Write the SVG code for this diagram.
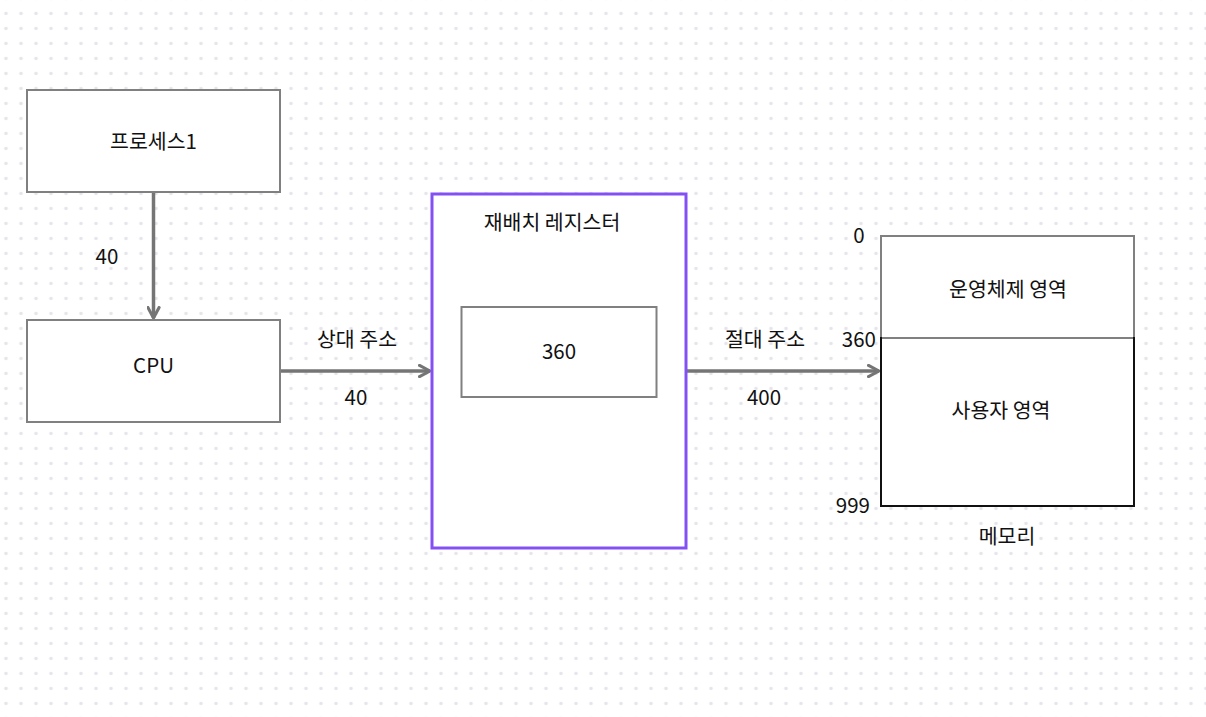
<svg xmlns="http://www.w3.org/2000/svg" width="1206" height="717" viewBox="0 0 1206 717">
<defs>
<pattern id="dots" x="0" y="0" width="15" height="15" patternUnits="userSpaceOnUse" patternTransform="translate(-1.5,-2)">
<circle cx="7.5" cy="15.5" r="1.7" fill="#e4e4ea"/>
<circle cx="7.5" cy="0.5" r="1.7" fill="#e4e4ea"/>
</pattern>
<marker id="arr" viewBox="0 0 10 10" refX="8.5" refY="5" markerWidth="4" markerHeight="4" orient="auto" markerUnits="strokeWidth">
<path d="M1,1 L8.5,5 L1,9" fill="none" stroke="#757575" stroke-width="2.2" stroke-linecap="round" stroke-linejoin="round"/>
</marker>
<style>
text{font-family:"Noto Sans CJK KR","Liberation Sans",sans-serif;font-size:20.5px;fill:#111;text-anchor:middle;dominant-baseline:central}
.box{fill:#fff;stroke:#808080;stroke-width:2}
.conn{stroke:#757575;stroke-width:3.5;fill:none}
</style>
</defs>
<rect width="1206" height="717" fill="#fff"/>
<rect width="1206" height="717" fill="url(#dots)"/>
<g id="connectors">
<line class="conn" x1="153.5" y1="192" x2="153.5" y2="318" marker-end="url(#arr)"/>
<line class="conn" x1="281" y1="371" x2="430" y2="371" marker-end="url(#arr)"/>
<line class="conn" x1="687" y1="371" x2="879" y2="371" marker-end="url(#arr)"/>
<text x="107" y="255">40</text>
<text x="357" y="338">상대 주소</text>
<text x="356" y="396">40</text>
<text x="765" y="338">절대 주소</text>
<text x="764" y="396">400</text>
</g>
<g id="process1">
<rect class="box" x="27" y="90" width="253" height="102"/>
<text x="153.5" y="140">프로세스1</text>
</g>
<g id="cpu">
<rect class="box" x="27" y="320" width="253" height="102"/>
<text x="153.5" y="364">CPU</text>
</g>
<g id="relocation-register">
<rect x="432" y="194" width="254" height="354" fill="#fff" stroke="#8350f5" stroke-width="3"/>
<text x="552" y="221">재배치 레지스터</text>
<g id="register-value">
<rect class="box" x="461.5" y="307" width="195" height="90"/>
<text x="559" y="350">360</text>
</g>
</g>
<g id="memory">
<rect class="box" x="881" y="236" width="253" height="102"/>
<rect x="881" y="338" width="253" height="168" fill="#fff" stroke="#111" stroke-width="2"/>
<line x1="882" y1="338" x2="1133" y2="338" stroke="#808080" stroke-width="2"/>
<text x="1008" y="288">운영체제 영역</text>
<text x="1001" y="409">사용자 영역</text>
<text x="859" y="234">0</text>
<text x="876" y="338" style="text-anchor:end">360</text>
<text x="870" y="504" style="text-anchor:end">999</text>
<text x="1007" y="535">메모리</text>
</g>
</svg>
